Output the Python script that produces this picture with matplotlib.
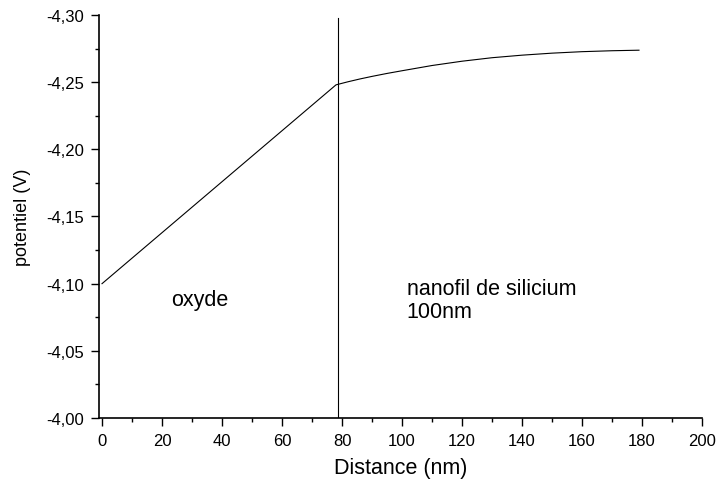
import matplotlib
matplotlib.use("Agg")
import matplotlib.pyplot as plt
from matplotlib.ticker import MultipleLocator, FuncFormatter

plt.rcParams['font.family'] = ['Liberation Sans', 'DejaVu Sans']

# potential profile: linear in oxide, saturating in the silicon nanowire
distance = [0, 78, 82, 86, 90, 95, 100, 110, 120, 130, 140, 150, 160, 170, 179]
potential = [-4.1000, -4.2480, -4.2503, -4.2524, -4.2543, -4.2565, -4.2585, -4.2624,
             -4.2656, -4.2682, -4.2701, -4.2716, -4.2727, -4.2734, -4.2738]

# interface oxide / silicon
interface_x = 78.7
interface_top = -4.298

x_ticks = [0, 20, 40, 60, 80, 100, 120, 140, 160, 180, 200]
y_ticks = [-4.00, -4.05, -4.10, -4.15, -4.20, -4.25, -4.30]

fig = plt.figure(figsize=(7.18, 4.85), dpi=100)
ax = fig.add_axes([0.1379, 0.1361, 0.8398, 0.8309])

ax.plot(distance, potential, color='black', lw=0.8)
ax.plot([interface_x, interface_x], [-4.00, interface_top], color='black', lw=0.8)

ax.set_xlim(-1, 200)
ax.set_ylim(-4.00, -4.30)
ax.set_xticks(x_ticks)
ax.set_yticks(y_ticks)
ax.xaxis.set_minor_locator(MultipleLocator(10))
ax.yaxis.set_minor_locator(MultipleLocator(0.025))
ax.yaxis.set_major_formatter(FuncFormatter(lambda v, p: f"{v:.2f}".replace('.', ',')))

for side in ['top', 'right']:
    ax.spines[side].set_visible(False)
for side in ['left', 'bottom']:
    ax.spines[side].set_linewidth(1.2)

ax.tick_params(which='major', direction='out', length=6, width=1.0, labelsize=12, pad=5)
ax.tick_params(which='minor', direction='out', length=3, width=1.0)

ax.set_xlabel('Distance (nm)', fontsize=15.5, labelpad=6)
ax.set_ylabel('potentiel (V)', fontsize=13)
ax.yaxis.set_label_coords(-0.113, 0.5)

ax.text(23, -4.088, 'oxyde', fontsize=15.5, va='center', ha='left')
ax.text(101.5, -4.088, 'nanofil de silicium\n100nm', fontsize=15.5, va='center', ha='left',
        linespacing=1.1)

fig.savefig('out.png', dpi=100)
